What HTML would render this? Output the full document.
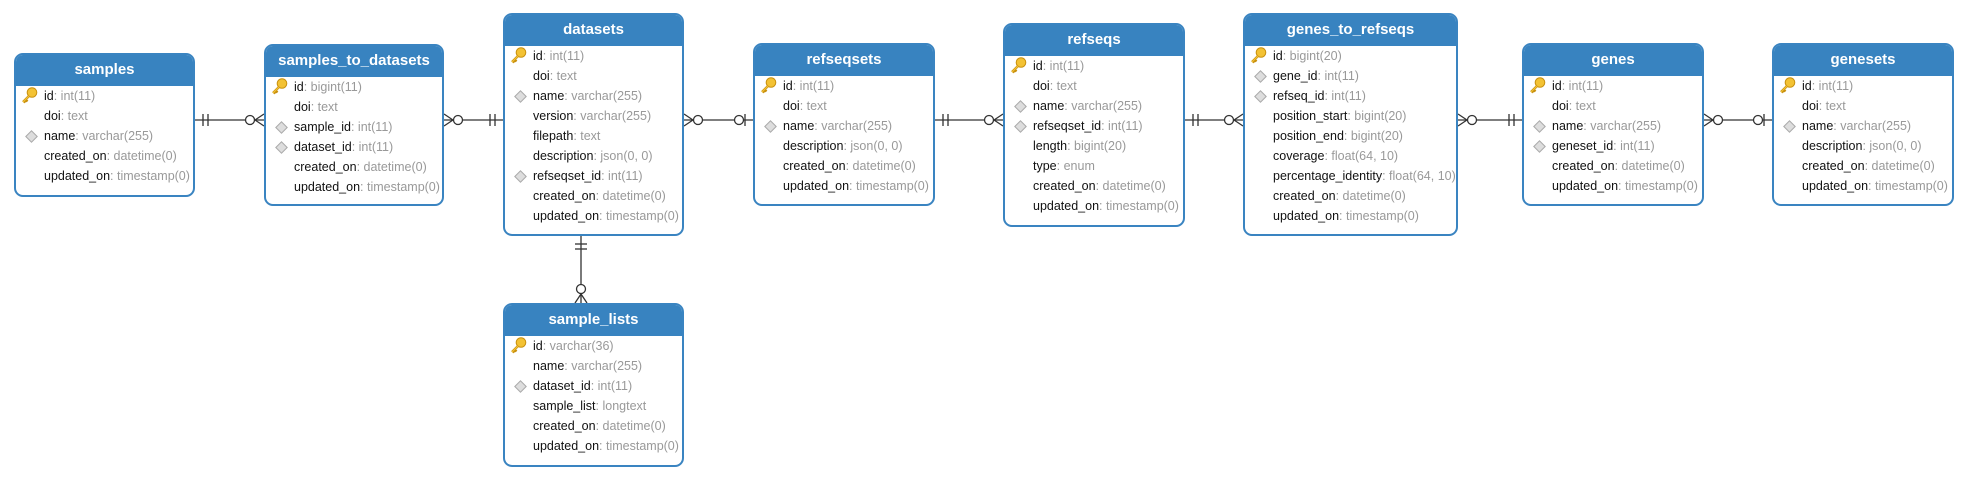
<!DOCTYPE html>
<html><head><meta charset="utf-8"><style>
body{margin:0;width:1968px;height:481px;background:#fff;position:relative;overflow:hidden;font-family:"Liberation Sans",Arial,sans-serif}
.t{position:absolute;box-sizing:border-box;border:2px solid #3a84c1;border-radius:9px;background:#fff;overflow:hidden}
.h{background:#3883c0;color:#fff;font-weight:bold;font-size:15px;height:31px;line-height:30px;text-align:center}
.r{position:relative;height:20px;line-height:20px;font-size:12.5px;color:#111;padding-left:28px;white-space:nowrap}
.r:first-of-type{margin-top:2px}
.r span{color:#999}
.d::before{content:"";position:absolute;left:11px;top:6px;width:7px;height:7px;background:#ddd;border:1px solid #aaa;transform:rotate(45deg)}
.k svg{position:absolute;left:5px;top:1px}
svg.c{position:absolute;left:0;top:0}
</style></head><body>
<svg class="c" width="1968" height="481" stroke="#333" stroke-width="1.3" fill="none">
<line x1="195" y1="120" x2="264" y2="120"/><line x1="203" y1="114" x2="203" y2="126"/><line x1="208" y1="114" x2="208" y2="126"/><circle cx="250" cy="120" r="4.5" fill="#fff"/><path d="M255 120L264 114M255 120L264 126"/>
<line x1="444" y1="120" x2="503" y2="120"/><path d="M453 120L444 114M453 120L444 126"/><circle cx="458" cy="120" r="4.5" fill="#fff"/><line x1="490" y1="114" x2="490" y2="126"/><line x1="495" y1="114" x2="495" y2="126"/>
<line x1="684" y1="120" x2="753" y2="120"/><path d="M693 120L684 114M693 120L684 126"/><circle cx="698" cy="120" r="4.5" fill="#fff"/><circle cx="739" cy="120" r="4.5" fill="#fff"/><line x1="745" y1="114" x2="745" y2="126"/>
<line x1="935" y1="120" x2="1003" y2="120"/><line x1="943" y1="114" x2="943" y2="126"/><line x1="948" y1="114" x2="948" y2="126"/><circle cx="989" cy="120" r="4.5" fill="#fff"/><path d="M994 120L1003 114M994 120L1003 126"/>
<line x1="1185" y1="120" x2="1243" y2="120"/><line x1="1193" y1="114" x2="1193" y2="126"/><line x1="1198" y1="114" x2="1198" y2="126"/><circle cx="1229" cy="120" r="4.5" fill="#fff"/><path d="M1234 120L1243 114M1234 120L1243 126"/>
<line x1="1458" y1="120" x2="1522" y2="120"/><path d="M1467 120L1458 114M1467 120L1458 126"/><circle cx="1472" cy="120" r="4.5" fill="#fff"/><line x1="1509" y1="114" x2="1509" y2="126"/><line x1="1514" y1="114" x2="1514" y2="126"/>
<line x1="1704" y1="120" x2="1772" y2="120"/><path d="M1713 120L1704 114M1713 120L1704 126"/><circle cx="1718" cy="120" r="4.5" fill="#fff"/><circle cx="1758" cy="120" r="4.5" fill="#fff"/><line x1="1764" y1="114" x2="1764" y2="126"/>
<line x1="581" y1="236" x2="581" y2="303"/><line x1="575" y1="244" x2="587" y2="244"/><line x1="575" y1="249" x2="587" y2="249"/><circle cx="581" cy="289" r="4.5" fill="#fff"/><path d="M581 294L575 303M581 294L587 303"/>
</svg>
<svg width="0" height="0" style="position:absolute"><defs><g id="key"><circle cx="11" cy="5.5" r="4.8" fill="#f3c234" stroke="#c8900e" stroke-width="1"/><path d="M8 9L2 15M4.5 12.5L6.5 14.5M3 14L4.5 15.5" stroke="#c8900e" stroke-width="2.4" fill="none"/><path d="M8 9L2 15" stroke="#f3c234" stroke-width="1.2"/></g></defs></svg>

<div class="t" style="left:14px;top:53px;width:181px;height:144px"><div class="h">samples</div>
<div class="r k"><svg width="18" height="18"><use href="#key"/></svg>id<span>: int(11)</span></div>
<div class="r">doi<span>: text</span></div>
<div class="r d">name<span>: varchar(255)</span></div>
<div class="r">created_on<span>: datetime(0)</span></div>
<div class="r">updated_on<span>: timestamp(0)</span></div></div>

<div class="t" style="left:264px;top:44px;width:180px;height:162px"><div class="h">samples_to_datasets</div>
<div class="r k"><svg width="18" height="18"><use href="#key"/></svg>id<span>: bigint(11)</span></div>
<div class="r">doi<span>: text</span></div>
<div class="r d">sample_id<span>: int(11)</span></div>
<div class="r d">dataset_id<span>: int(11)</span></div>
<div class="r">created_on<span>: datetime(0)</span></div>
<div class="r">updated_on<span>: timestamp(0)</span></div></div>

<div class="t" style="left:503px;top:13px;width:181px;height:223px"><div class="h">datasets</div>
<div class="r k"><svg width="18" height="18"><use href="#key"/></svg>id<span>: int(11)</span></div>
<div class="r">doi<span>: text</span></div>
<div class="r d">name<span>: varchar(255)</span></div>
<div class="r">version<span>: varchar(255)</span></div>
<div class="r">filepath<span>: text</span></div>
<div class="r">description<span>: json(0, 0)</span></div>
<div class="r d">refseqset_id<span>: int(11)</span></div>
<div class="r">created_on<span>: datetime(0)</span></div>
<div class="r">updated_on<span>: timestamp(0)</span></div></div>

<div class="t" style="left:503px;top:303px;width:181px;height:164px"><div class="h">sample_lists</div>
<div class="r k"><svg width="18" height="18"><use href="#key"/></svg>id<span>: varchar(36)</span></div>
<div class="r">name<span>: varchar(255)</span></div>
<div class="r d">dataset_id<span>: int(11)</span></div>
<div class="r">sample_list<span>: longtext</span></div>
<div class="r">created_on<span>: datetime(0)</span></div>
<div class="r">updated_on<span>: timestamp(0)</span></div></div>

<div class="t" style="left:753px;top:43px;width:182px;height:163px"><div class="h">refseqsets</div>
<div class="r k"><svg width="18" height="18"><use href="#key"/></svg>id<span>: int(11)</span></div>
<div class="r">doi<span>: text</span></div>
<div class="r d">name<span>: varchar(255)</span></div>
<div class="r">description<span>: json(0, 0)</span></div>
<div class="r">created_on<span>: datetime(0)</span></div>
<div class="r">updated_on<span>: timestamp(0)</span></div></div>

<div class="t" style="left:1003px;top:23px;width:182px;height:204px"><div class="h">refseqs</div>
<div class="r k"><svg width="18" height="18"><use href="#key"/></svg>id<span>: int(11)</span></div>
<div class="r">doi<span>: text</span></div>
<div class="r d">name<span>: varchar(255)</span></div>
<div class="r d">refseqset_id<span>: int(11)</span></div>
<div class="r">length<span>: bigint(20)</span></div>
<div class="r">type<span>: enum</span></div>
<div class="r">created_on<span>: datetime(0)</span></div>
<div class="r">updated_on<span>: timestamp(0)</span></div></div>

<div class="t" style="left:1243px;top:13px;width:215px;height:223px"><div class="h">genes_to_refseqs</div>
<div class="r k"><svg width="18" height="18"><use href="#key"/></svg>id<span>: bigint(20)</span></div>
<div class="r d">gene_id<span>: int(11)</span></div>
<div class="r d">refseq_id<span>: int(11)</span></div>
<div class="r">position_start<span>: bigint(20)</span></div>
<div class="r">position_end<span>: bigint(20)</span></div>
<div class="r">coverage<span>: float(64, 10)</span></div>
<div class="r">percentage_identity<span>: float(64, 10)</span></div>
<div class="r">created_on<span>: datetime(0)</span></div>
<div class="r">updated_on<span>: timestamp(0)</span></div></div>

<div class="t" style="left:1522px;top:43px;width:182px;height:163px"><div class="h">genes</div>
<div class="r k"><svg width="18" height="18"><use href="#key"/></svg>id<span>: int(11)</span></div>
<div class="r">doi<span>: text</span></div>
<div class="r d">name<span>: varchar(255)</span></div>
<div class="r d">geneset_id<span>: int(11)</span></div>
<div class="r">created_on<span>: datetime(0)</span></div>
<div class="r">updated_on<span>: timestamp(0)</span></div></div>

<div class="t" style="left:1772px;top:43px;width:182px;height:163px"><div class="h">genesets</div>
<div class="r k"><svg width="18" height="18"><use href="#key"/></svg>id<span>: int(11)</span></div>
<div class="r">doi<span>: text</span></div>
<div class="r d">name<span>: varchar(255)</span></div>
<div class="r">description<span>: json(0, 0)</span></div>
<div class="r">created_on<span>: datetime(0)</span></div>
<div class="r">updated_on<span>: timestamp(0)</span></div></div>
</body></html>
